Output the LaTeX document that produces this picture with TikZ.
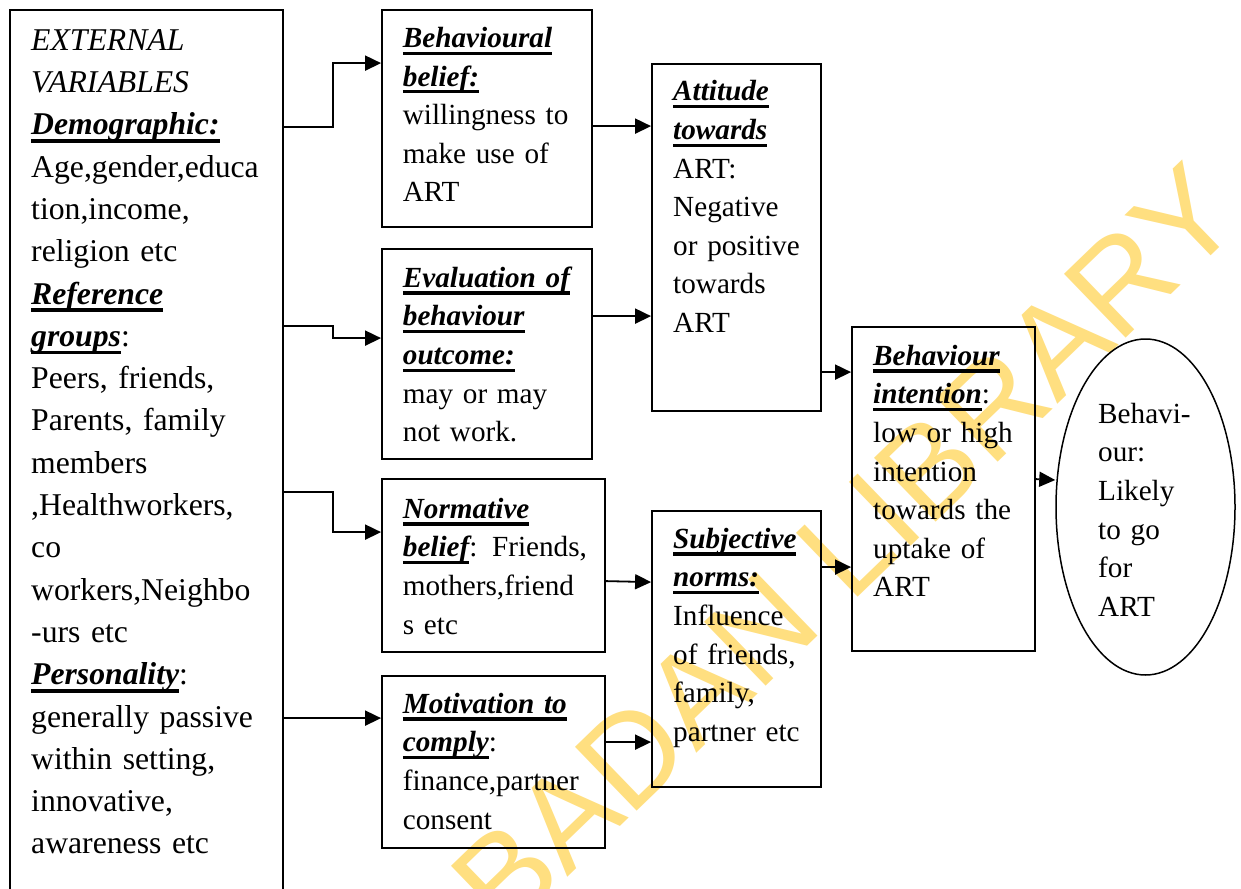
\documentclass[tikz,border=0pt]{standalone}
\usepackage{fontspec}
\setmainfont{Liberation Serif}
\newfontfamily\wmfont{Liberation Sans}
\usetikzlibrary{shapes.geometric,arrows.meta}
\definecolor{wmyellow}{HTML}{FFDF80}
\newsavebox\ulbox
\newcommand\ubi[1]{\sbox\ulbox{\bfseries\itshape #1}\leavevmode\rlap{\rule[-0.25em]{\wd\ulbox}{0.11em}}\usebox\ulbox}
\tikzset{
  box/.style={draw, line width=1.8pt, rectangle, inner sep=0pt},
  txt/.style={anchor=north west, inner sep=0pt, align=left, text width=300pt,
    font=\fontsize{29.2}{38.6}\selectfont},
  bigtxt/.style={anchor=north west, inner sep=0pt, align=left, text width=300pt,
    font=\fontsize{31.7}{42.3}\selectfont},
  arr/.style={line width=1.8pt, -{Triangle[length=16pt,width=15pt]}},
  wm/.style={text=wmyellow, font=\wmfont\fontsize{129}{129}\selectfont, inner sep=0pt}
}
\begin{document}
\begin{tikzpicture}[x=1pt,y=-1pt]
\useasboundingbox (0,0) rectangle (1241,888);
\clip (0,0) rectangle (1241,888);
\fill[white] (0,0) rectangle (1241,888);
% watermark
\node[wm, rotate=44] (wmk) at (845,548) {BADAN LIBRARY};
% boxes
\node[box, minimum width=273pt, minimum height=900pt] (ext) at (146.5,460) {};
\node[box, minimum width=210pt, minimum height=217pt] (bb) at (487,118.5) {};
\node[box, minimum width=210pt, minimum height=210pt] (ev) at (487,354) {};
\node[box, minimum width=169pt, minimum height=347pt] (att) at (736.5,237.5) {};
\node[box, minimum width=223pt, minimum height=173pt] (nb) at (493.5,565.5) {};
\node[box, minimum width=223pt, minimum height=172pt] (mc) at (493.5,762) {};
\node[box, minimum width=169pt, minimum height=276pt] (sn) at (736.5,649) {};
\node[box, minimum width=183pt, minimum height=324pt] (bi) at (943.5,489) {};
\node[draw, line width=1.5pt, ellipse, inner sep=0pt, minimum width=179pt, minimum height=336pt] (beh) at (1145.5,507) {};
% texts
\node[bigtxt] (extT) at (31,20.4) {\strut{\itshape EXTERNAL}\\
{\itshape VARIABLES}\\
\ubi{Demographic:}\\
Age,gender,educa\\
tion,income,\\
religion etc\\
\ubi{Reference}\\
\ubi{groups}:\\
Peers, friends,\\
Parents, family\\
members\\
,Healthworkers,\\
co\\
workers,Neighbo\\
-urs etc\\
\ubi{Personality}:\\
generally passive\\
within setting,\\
innovative,\\
awareness etc};
\node[txt] (bbT) at (402.7,20.3) {\strut\ubi{Behavioural}\\
\ubi{belief:}\\
willingness to\\
make use of\\
ART};
\node[txt] (evT) at (402.7,260) {\strut\ubi{Evaluation of}\\
\ubi{behaviour}\\
\ubi{outcome:}\\
may or may\\
not work.};
\node[txt] (attT) at (673,73.7) {\strut\ubi{Attitude}\\
\ubi{towards}\\
ART:\\
Negative\\
or positive\\
towards\\
ART};
\node[txt] (nbT) at (402.7,491) {\strut\ubi{Normative}\\
\ubi{belief}: Friends,\\
mothers,friend\\
s etc};
\node[txt] (mcT) at (402.7,686) {\strut\ubi{Motivation to}\\
\ubi{comply}:\\
finance,partner\\
consent};
\node[txt] (snT) at (673,521) {\strut\ubi{Subjective}\\
\ubi{norms:}\\
Influence\\
of friends,\\
family,\\
partner etc};
\node[txt] (biT) at (873,338) {\strut\ubi{Behaviour}\\
\ubi{intention}:\\
low or high\\
intention\\
towards the\\
uptake of\\
ART};
\node[txt] (behT) at (1098,396) {\strut Behavi-\\
our:\\
Likely\\
to go\\
for\\
ART};
% connectors
\draw[arr] ([yshift=-118pt]ext.north east) -- ++(49,0) |- ([yshift=-54pt]bb.north west);
\draw[arr] ([yshift=-317pt]ext.north east) -- ++(49,0) |- ([yshift=-90pt]ev.north west);
\draw[arr] ([yshift=-483pt]ext.north east) -- ++(49,0) |- ([yshift=-54pt]nb.north west);
\draw[arr] ([yshift=-709pt]ext.north east) -- ([yshift=-43pt]mc.north west);
\draw[arr] ([yshift=-117pt]bb.north east) -- ([yshift=-63pt]att.north west);
\draw[arr] ([yshift=-68pt]ev.north east) -- ([yshift=-253pt]att.north west);
\draw[arr] ([yshift=-309pt]att.north east) -- ([yshift=-46pt]bi.north west);
\draw[arr] ([yshift=-103pt]nb.north east) -- ([yshift=-72pt]sn.north west);
\draw[arr] ([yshift=-67pt]mc.north east) -- ([yshift=-232pt]sn.north west);
\draw[arr] ([yshift=-57pt]sn.north east) -- ([yshift=-241pt]bi.north west);
\draw[arr] ([yshift=-153pt]bi.north east) -- ([yshift=27pt]beh.west);
\end{tikzpicture}
\end{document}
